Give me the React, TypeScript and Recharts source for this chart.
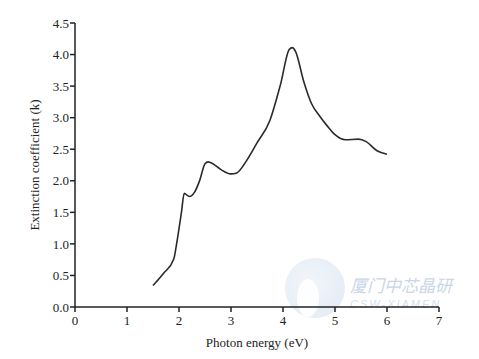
import React from "react";
import { LineChart, Line, XAxis, YAxis, Label } from "recharts";

const energy = [1.5, 1.7, 1.9, 1.95, 2.0, 2.05, 2.1, 2.2, 2.3, 2.4, 2.5, 2.56, 2.65, 2.8, 3.0, 3.1, 3.3, 3.5, 3.75, 3.95, 4.12, 4.18, 4.24, 4.4, 4.55, 4.7, 4.85, 5.0, 5.2, 5.45, 5.6, 5.8, 6.0];
const kValues = [0.34, 0.53, 0.76, 0.98, 1.24, 1.52, 1.8, 1.75, 1.82, 2.01, 2.27, 2.3, 2.27, 2.18, 2.11, 2.12, 2.32, 2.6, 2.96, 3.52, 4.08, 4.11, 4.05, 3.57, 3.22, 3.03, 2.87, 2.73, 2.65, 2.66, 2.62, 2.48, 2.42];
const xTicks = [0, 1, 2, 3, 4, 5, 6, 7];
const yTicks = [0, 0.5, 1, 1.5, 2, 2.5, 3, 3.5, 4, 4.5];
const xTitle = "Photon energy (eV)";
const yTitle = "Extinction coefficient (k)";

const data = energy.map((e, i) => ({ e, k: kValues[i] }));

const FONT = "'Liberation Serif', 'Times New Roman', serif";
const tickStyle = { fontFamily: FONT, fontSize: 13, fill: "#222" };

export default function App() {
  return (
    <div style={{ position: "relative", width: 471, height: 351 }}>
      <svg
        width={471}
        height={351}
        style={{ position: "absolute", left: 0, top: 0, pointerEvents: "none" }}
      >
        <defs>
          <radialGradient id="wm" cx="0.4" cy="0.4" r="0.7">
            <stop offset="0%" stopColor="#eef3f9" />
            <stop offset="100%" stopColor="#dde7f3" />
          </radialGradient>
        </defs>
        <circle cx={307} cy={280} r={30} fill="url(#wm)" opacity={0.8} />
        <ellipse cx={300} cy={290} rx={11} ry={19} fill="#fff" opacity={0.9} />
        <text x={342} y={284} fontFamily="'Noto Sans CJK SC', sans-serif" fontStyle="italic" fontSize={17} fill="#c9d6e8">厦门中芯晶研</text>
        <text x={342} y={300} fontFamily="'Liberation Sans', sans-serif" fontStyle="italic" fontSize={11} fill="#d3def0" letterSpacing={2}>CSW-XIAMEN</text>
      </svg>
      <LineChart
        width={471}
        height={351}
        data={data}
        margin={{ top: 15, right: 40, left: 27, bottom: 22 }}
        style={{ position: "absolute", left: 0, top: 0 }}
      >
        <XAxis
          dataKey="e"
          type="number"
          domain={[0, 7]}
          ticks={xTicks}
          interval={0}
          height={30}
          tick={tickStyle}
          tickSize={5}
          tickMargin={4}
          stroke="#222"
          strokeWidth={1.5}
        >
          <Label
            content={({ viewBox }: any) => (
              <text
                x={viewBox.x + viewBox.width / 2}
                y={viewBox.y + 40}
                textAnchor="middle"
                fontFamily={FONT}
                fontSize={13}
                fill="#222"
              >
                {xTitle}
              </text>
            )}
          />
        </XAxis>
        <YAxis
          type="number"
          domain={[0, 4.5]}
          ticks={yTicks}
          interval={0}
          width={40}
          tick={tickStyle}
          tickSize={5}
          tickMargin={1}
          tickFormatter={(v: number) => v.toFixed(1)}
          stroke="#222"
          strokeWidth={1.5}
        >
          <Label
            content={({ viewBox }: any) => {
              const x = viewBox.x + 4;
              const y = viewBox.y + viewBox.height / 2;
              return (
                <text
                  x={x}
                  y={y}
                  transform={`rotate(-90, ${x}, ${y})`}
                  textAnchor="middle"
                  fontFamily={FONT}
                  fontSize={13}
                  fill="#222"
                >
                  {yTitle}
                </text>
              );
            }}
          />
        </YAxis>
        <Line
          type="monotone"
          dataKey="k"
          stroke="#2a2a2a"
          strokeWidth={1.6}
          dot={false}
          isAnimationActive={false}
        />
      </LineChart>
    </div>
  );
}
